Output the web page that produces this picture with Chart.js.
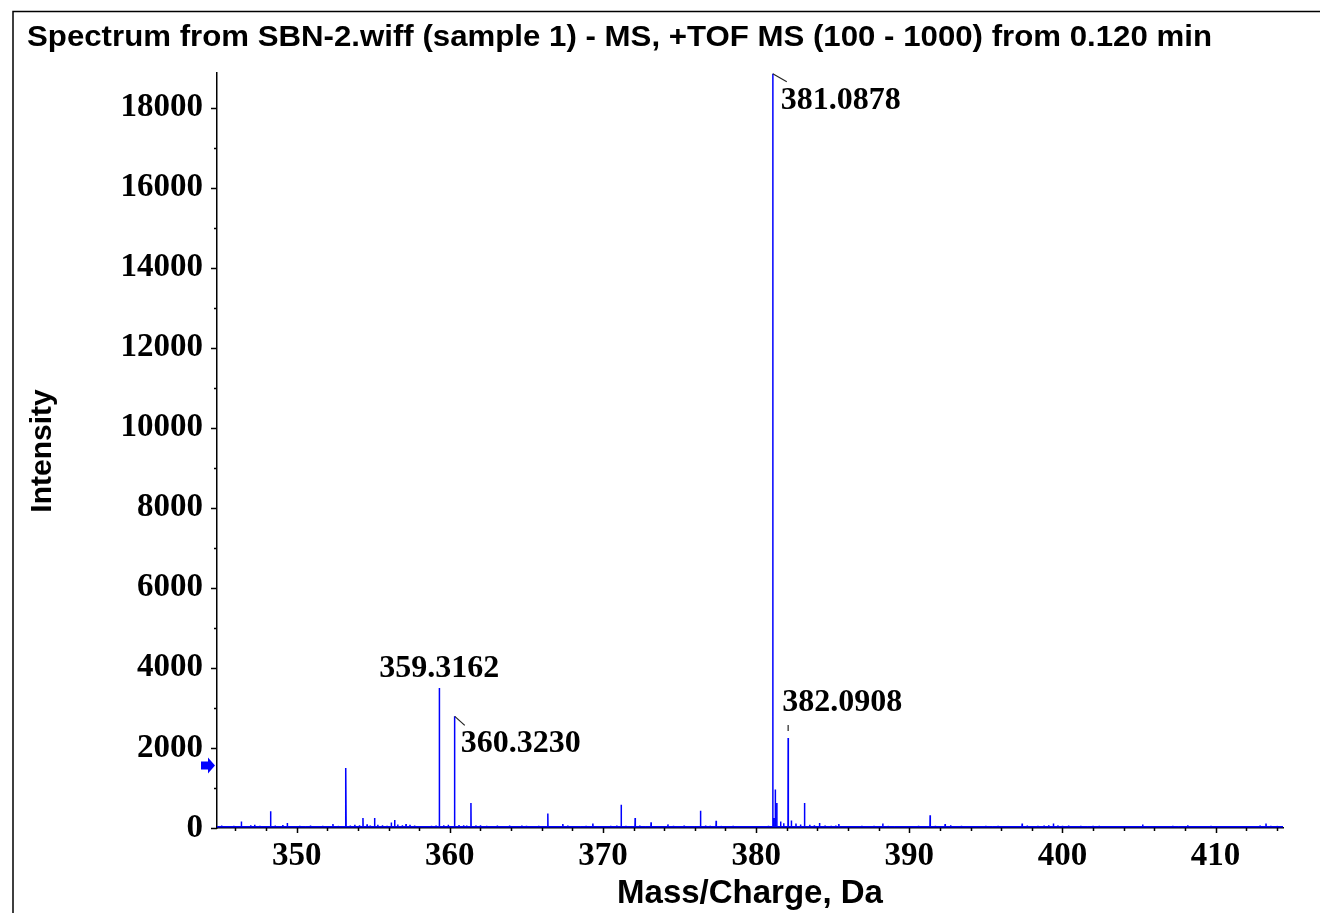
<!DOCTYPE html>
<html><head><meta charset="utf-8">
<script src="https://cdn.jsdelivr.net/npm/chart.js@4"></script>
<style>html,body{margin:0;padding:0;background:#fff;} #wrap{position:relative;width:1320px;height:913px;}</style>
</head><body><div id="wrap"><canvas id="c" width="1320" height="913"></canvas></div>
<script>
// ---------- data ----------
const titleText = "Spectrum from SBN-2.wiff (sample 1) - MS, +TOF MS (100 - 1000) from 0.120 min";
const xTitle = "Mass/Charge, Da";
const yTitle = "Intensity";
const xMin = 344.8, xMax = 414.4;
const yMin = 0, yMax = 18870;
const xTickValues = [350, 360, 370, 380, 390, 400, 410];
const yTickValues = [0, 2000, 4000, 6000, 8000, 10000, 12000, 14000, 16000, 18000];
const xMinorStep = 2, yMinorStep = 1000;

const peakMz = [346.39, 347.26, 348.30, 349.39, 352.37, 353.19, 353.22, 354.33, 355.09, 356.18, 356.40, 357.14,
  359.10, 359.3162, 360.30, 360.3230, 361.38, 366.40, 367.38, 369.34, 371.19, 372.10, 373.14, 374.24, 376.37, 377.39,
  381.0878, 381.15, 381.25, 381.35, 381.60, 382.0908, 382.30, 383.16, 384.14, 385.40, 388.27, 391.36, 392.34,
  397.37, 399.41, 405.24, 408.18, 413.29];
const peakIntensity = [165, 80, 420, 125, 100, 500, 1500, 250, 250, 140, 200, 100,
  60, 3500, 2080, 2790, 625, 360, 100, 110, 580, 250, 140, 90, 433, 180,
  18850, 250, 960, 625, 165, 2250, 190, 625, 125, 100, 110, 320, 100,
  110, 110, 90, 70, 110];

const noiseMz = [345.1, 345.5, 345.9, 346.2, 346.7, 347.0, 347.6, 347.9, 348.6, 348.9, 349.1, 349.7, 350.2, 350.6, 350.9,
  351.3, 351.7, 352.0, 352.7, 353.5, 353.8, 354.1, 354.6, 354.8, 355.3, 355.6, 355.9, 356.6, 356.9, 357.4, 357.7, 358.0,
  358.4, 358.8, 359.6, 359.9, 360.6, 360.9, 361.1, 361.7, 362.0, 362.4, 362.8, 363.1, 363.5, 363.9, 364.3, 364.7, 365.0,
  365.4, 365.8, 366.1, 366.7, 367.0, 367.7, 368.0, 368.5, 368.9, 369.7, 370.1, 370.5, 370.9, 371.5, 371.8, 372.4, 372.8,
  373.5, 373.9, 374.6, 374.9, 375.3, 375.7, 376.0, 376.7, 377.0, 377.7, 378.1, 378.5, 378.9, 379.3, 379.7, 380.1, 380.5,
  380.8, 381.8, 382.6, 382.9, 383.5, 383.8, 384.5, 384.9, 385.2, 385.7, 386.1, 386.5, 386.9, 387.3, 387.7, 388.0, 388.6,
  389.0, 389.4, 389.8, 390.2, 390.6, 391.0, 391.7, 392.0, 392.7, 393.0, 393.4, 393.8, 394.2, 394.6, 395.0, 395.4, 395.8,
  396.2, 396.6, 397.0, 397.7, 398.0, 398.4, 398.8, 399.1, 399.7, 400.0, 400.4, 400.8, 401.2, 401.6, 402.0, 402.4, 402.8,
  403.2, 403.6, 404.0, 404.5, 404.9, 405.6, 406.0, 406.4, 406.8, 407.2, 407.6, 408.5, 408.9, 409.3, 409.7, 410.1, 410.5,
  410.9, 411.3, 411.7, 412.1, 412.5, 412.9, 413.6, 414.0, 414.3];
const noiseIntensity = [60, 45, 55, 50, 40, 70, 55, 45, 60, 50, 75, 45, 55, 40, 60,
  45, 55, 40, 50, 60, 80, 70, 90, 60, 80, 70, 55, 90, 70, 80, 60, 45,
  40, 55, 70, 80, 75, 70, 60, 65, 70, 55, 45, 60, 50, 65, 50, 60, 55,
  45, 55, 40, 50, 45, 60, 40, 35, 50, 40, 50, 55, 60, 55, 50, 60, 45,
  50, 45, 55, 40, 60, 50, 45, 60, 55, 50, 45, 55, 40, 50, 45, 50, 40,
  55, 120, 110, 90, 80, 70, 60, 55, 65, 50, 40, 45, 55, 40, 50, 45, 50,
  40, 45, 50, 40, 55, 50, 55, 45, 70, 45, 55, 50, 45, 40, 55, 45, 50,
  40, 45, 50, 60, 45, 55, 60, 70, 65, 55, 60, 50, 55, 45, 50, 55, 45,
  50, 40, 45, 50, 40, 45, 50, 40, 45, 55, 45, 50, 40, 45, 50, 40, 45,
  50, 40, 45, 50, 45, 60, 55, 50, 45];
const baselineLevel = 30;

const labelMz = [381.0878, 359.3162, 360.3230, 382.0908];
const labelIntensity = [18850, 3500, 2790, 2250];
const labelText = ["381.0878", "359.3162", "360.3230", "382.0908"];
const thresholdIntensity = 1560;

// ---------- styles / layout ----------
const BLUE = '#0000ff';
const serifFamily = '"Liberation Serif", "Times New Roman", serif';
const serifBold = 'bold 32px ' + serifFamily;
const sansFamily = '"Liberation Sans", Arial, sans-serif';
const labelLayout = {
  "381.0878": {dx: 8, dy: 35, align: 'left', leader: [0, 0, 14, 8]},
  "359.3162": {dx: 0, dy: -11, align: 'center', leader: null},
  "360.3230": {dx: 6, dy: 36, align: 'left', leader: [0, 0, 10, 9]},
  "382.0908": {dx: -6, dy: -27, align: 'left', leader: [0, -13, 0, -7]}
};

// build spectrum points from the arrays
const spikes = [];
peakMz.forEach((m, i) => spikes.push([m, peakIntensity[i]]));
noiseMz.forEach((m, i) => spikes.push([m, noiseIntensity[i]]));
spikes.sort((a, b) => a[0] - b[0]);
const spectrum = [];
const half = 0.012;
spectrum.push({x: xMin, y: baselineLevel});
spikes.forEach(([m, h]) => {
  spectrum.push({x: m - half, y: baselineLevel});
  spectrum.push({x: m, y: h});
  spectrum.push({x: m + half, y: baselineLevel});
});
spectrum.push({x: xMax, y: baselineLevel});

const decor = {
  id: 'decor',
  afterDraw(chart) {
    const ctx = chart.ctx;
    const xs = chart.scales.x, ys = chart.scales.y;
    const ca = chart.chartArea;
    ctx.save();
    // frame
    ctx.strokeStyle = '#000';
    ctx.lineWidth = 1.5;
    ctx.beginPath();
    ctx.moveTo(13, 913); ctx.lineTo(13, 11.5); ctx.lineTo(1320, 11.5);
    ctx.stroke();
    // title
    ctx.fillStyle = '#000';
    ctx.font = 'bold 30px ' + sansFamily;
    ctx.textBaseline = 'alphabetic';
    ctx.textAlign = 'left';
    const tw = ctx.measureText(titleText).width;
    ctx.save();
    ctx.translate(27, 46);
    ctx.scale(1185 / tw, 1);
    ctx.fillText(titleText, 0, 0);
    ctx.restore();
    // axis titles
    ctx.font = 'bold 33px ' + sansFamily;
    ctx.textAlign = 'center';
    ctx.fillText(xTitle, (ca.left + ca.right) / 2, 903);
    ctx.font = 'bold 30px ' + sansFamily;
    ctx.save();
    ctx.translate(51, 451);
    ctx.rotate(-Math.PI / 2);
    ctx.fillText(yTitle, 0, 0);
    ctx.restore();
    // tick marks (major + minor)
    ctx.strokeStyle = '#000';
    ctx.lineWidth = 1.5;
    ctx.beginPath();
    for (let v = Math.ceil(xMin / xMinorStep) * xMinorStep; v <= xMax; v += xMinorStep) {
      const px = Math.round(xs.getPixelForValue(v)) + 0.5;
      const major = xTickValues.includes(v);
      ctx.moveTo(px, ca.bottom); ctx.lineTo(px, ca.bottom + (major ? 5 : 3));
    }
    for (let v = 0; v <= yMax; v += yMinorStep) {
      const py = Math.round(ys.getPixelForValue(v)) + 0.5;
      const major = yTickValues.includes(v);
      ctx.moveTo(ca.left, py); ctx.lineTo(ca.left - (major ? 6 : 3), py);
    }
    ctx.stroke();
    // peak labels
    ctx.font = serifBold;
    ctx.textBaseline = 'alphabetic';
    labelMz.forEach((m, i) => {
      const px = xs.getPixelForValue(m), py = ys.getPixelForValue(labelIntensity[i]);
      const L = labelLayout[labelText[i]];
      ctx.fillStyle = '#000';
      ctx.textAlign = L.align;
      ctx.fillText(labelText[i], px + L.dx, py + L.dy);
      if (L.leader) {
        ctx.strokeStyle = '#222';
        ctx.lineWidth = 1.2;
        ctx.beginPath();
        ctx.moveTo(px + L.leader[0], py + L.leader[1]);
        ctx.lineTo(px + L.leader[2], py + L.leader[3]);
        ctx.stroke();
      }
    });
    // threshold arrow
    const ay = ys.getPixelForValue(thresholdIntensity);
    const ax = ca.left - 2;
    ctx.fillStyle = BLUE;
    ctx.beginPath();
    ctx.moveTo(ax, ay);
    ctx.lineTo(ax - 7, ay - 8);
    ctx.lineTo(ax - 7, ay - 4);
    ctx.lineTo(ax - 14, ay - 4);
    ctx.lineTo(ax - 14, ay + 4);
    ctx.lineTo(ax - 7, ay + 4);
    ctx.lineTo(ax - 7, ay + 8);
    ctx.closePath();
    ctx.fill();
    ctx.restore();
  }
};

const tickFont = {family: serifFamily, size: 33, weight: 'bold'};

new Chart(document.getElementById('c'), {
  type: 'scatter',
  data: {
    datasets: [{
      data: spectrum,
      showLine: true,
      borderColor: BLUE,
      borderWidth: 1.5,
      borderJoinStyle: 'bevel',
      pointRadius: 0,
      tension: 0,
      fill: false
    }]
  },
  options: {
    responsive: false,
    animation: false,
    devicePixelRatio: 1,
    layout: {padding: {top: 73, right: 37, bottom: 0, left: 0}},
    plugins: {legend: {display: false}, title: {display: false}, tooltip: {enabled: false}},
    scales: {
      x: {
        type: 'linear', min: xMin, max: xMax,
        afterBuildTicks(s) { s.ticks = xTickValues.map(v => ({value: v})); },
        afterFit(s) { s.height = 85; },
        border: {display: true, color: '#000', width: 1.5},
        grid: {display: true, drawOnChartArea: false, drawTicks: true, tickLength: 6, color: 'rgba(0,0,0,0)'},
        ticks: {autoSkip: false, maxRotation: 0, padding: 3, color: '#000', font: tickFont,
          callback: v => String(v)}
      },
      y: {
        type: 'linear', min: yMin, max: yMax,
        afterBuildTicks(s) { s.ticks = yTickValues.map(v => ({value: v})); },
        afterFit(s) { s.width = 217; },
        border: {display: true, color: '#000', width: 1.5},
        grid: {display: true, drawOnChartArea: false, drawTicks: true, tickLength: 6, color: 'rgba(0,0,0,0)'},
        ticks: {autoSkip: false, padding: 8, color: '#000', font: tickFont,
          callback: v => String(v)}
      }
    }
  },
  plugins: [decor]
});
</script>
</body></html>
